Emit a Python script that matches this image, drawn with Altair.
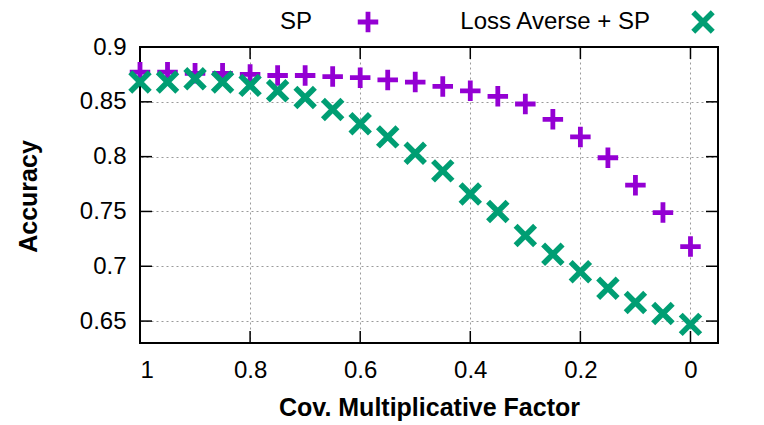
import altair as alt
import pandas as pd

factor = [1.0, 0.95, 0.9, 0.85, 0.8, 0.75, 0.7, 0.65, 0.6, 0.55, 0.5,
          0.45, 0.4, 0.35, 0.3, 0.25, 0.2, 0.15, 0.1, 0.05, 0.0]
sp = [0.877, 0.877, 0.876, 0.876, 0.875, 0.874, 0.874, 0.873, 0.872, 0.870, 0.868,
      0.864, 0.860, 0.855, 0.848, 0.834, 0.818, 0.799, 0.774, 0.749, 0.718]
loss_averse_sp = [0.868, 0.868, 0.871, 0.868, 0.865, 0.860, 0.854, 0.843, 0.830, 0.818, 0.803,
                  0.787, 0.766, 0.750, 0.728, 0.711, 0.695, 0.680, 0.667, 0.657, 0.647]
series_names = ["SP", "Loss Averse + SP"]
x_ticks = [0, 0.2, 0.4, 0.6, 0.8, 1]
y_ticks = [0.65, 0.7, 0.75, 0.8, 0.85, 0.9]

PURPLE = "#9400D3"
GREEN = "#009E73"
FONT = "Liberation Sans"
PLUS = "M-1,0H1M0,-1V1"
CROSS = "M-1,-1L1,1M-1,1L1,-1"
W, H = 578, 296

df_sp = pd.DataFrame({"x": factor, "y": sp})
df_la = pd.DataFrame({"x": factor, "y": loss_averse_sp})
df_xt = pd.DataFrame({"x": x_ticks})
df_yt = pd.DataFrame({"y": y_ticks})

xscale = alt.Scale(domain=[-0.05, 1], reverse=True, nice=False, zero=False)
yscale = alt.Scale(domain=[0.63, 0.9], nice=False, zero=False)

xaxis = alt.Axis(values=x_ticks, format="~g", title="Cov. Multiplicative Factor",
                 grid=True, gridDash=[2, 3], gridColor="#9a9a9a", gridWidth=1,
                 ticks=False, tickSize=0, domain=False,
                 labelFont=FONT, labelFontSize=24, labelColor="black",
                 labelBaseline="middle", labelPadding=27,
                 titleFont=FONT, titleFontSize=25, titleFontWeight="bold", titleColor="black",
                 titleBaseline="middle", titleY=64)
yaxis = alt.Axis(values=y_ticks, format="~g", title="Accuracy",
                 grid=True, gridDash=[2, 3], gridColor="#9a9a9a", gridWidth=1,
                 ticks=False, tickSize=0, domain=False,
                 labelFont=FONT, labelFontSize=24, labelColor="black",
                 labelPadding=14,
                 titleFont=FONT, titleFontSize=25, titleFontWeight="bold", titleColor="black",
                 titleBaseline="middle", titleX=-112, titleY=H / 2 + 1, titleAngle=-90)


def X(field="x"):
    return alt.X(f"{field}:Q", scale=xscale, axis=xaxis)


def Y(field="y"):
    return alt.Y(f"{field}:Q", scale=yscale, axis=yaxis)


pts_sp = alt.Chart(df_sp).mark_point(
    shape=PLUS, size=420, filled=False, color=PURPLE, strokeWidth=4.8, opacity=1
).encode(x=X(), y=Y())
pts_la = alt.Chart(df_la).mark_point(
    shape=CROSS, size=380, filled=False, color=GREEN, strokeWidth=5.6, opacity=1
).encode(x=X(), y=Y())

TL = 12
ytick_l = alt.Chart(df_yt).mark_rule(color="black", strokeWidth=1.5).encode(
    y=Y(), x=alt.value(0), x2=alt.value(TL))
ytick_r = alt.Chart(df_yt).mark_rule(color="black", strokeWidth=1.5).encode(
    y=Y(), x=alt.value(W - TL), x2=alt.value(W))
xtick_b = alt.Chart(df_xt).mark_rule(color="black", strokeWidth=1.5).encode(
    x=X(), y=alt.value(H - TL), y2=alt.value(H))
xtick_t = alt.Chart(df_xt).mark_rule(color="black", strokeWidth=1.5).encode(
    x=X(), y=alt.value(0), y2=alt.value(TL))

# plot border box
frame = alt.Chart(pd.DataFrame({"k": [0]})).mark_rect(
    fill=None, fillOpacity=0, stroke="black", strokeWidth=2
).encode(x=alt.value(0), x2=alt.value(W), y=alt.value(0), y2=alt.value(H))

# legend (gnuplot style: text then sample), placed above the plot
LY = -25
leg_df = pd.DataFrame({"name": series_names})
leg_text_sp = alt.Chart(leg_df.iloc[[0]]).mark_text(
    font=FONT, fontSize=24, align="right", baseline="middle", color="black"
).encode(text="name:N", x=alt.value(172), y=alt.value(LY))
leg_text_la = alt.Chart(leg_df.iloc[[1]]).mark_text(
    font=FONT, fontSize=24, align="right", baseline="middle", color="black"
).encode(text="name:N", x=alt.value(510), y=alt.value(LY))
leg_sym_sp = alt.Chart(leg_df.iloc[[0]]).mark_point(
    shape=PLUS, size=420, filled=False, color=PURPLE, strokeWidth=4.8, opacity=1
).encode(x=alt.value(228), y=alt.value(LY))
leg_sym_la = alt.Chart(leg_df.iloc[[1]]).mark_point(
    shape=CROSS, size=380, filled=False, color=GREEN, strokeWidth=5.6, opacity=1
).encode(x=alt.value(563), y=alt.value(LY))

chart = alt.layer(
    ytick_l, ytick_r, xtick_b, xtick_t, frame, pts_sp, pts_la,
    leg_text_sp, leg_sym_sp, leg_text_la, leg_sym_la,
).properties(
    width=W, height=H,
    background="white",
    autosize=alt.AutoSizeParams(type="none"),
    padding={"left": 132, "top": 39, "right": 38, "bottom": 79},
).configure_view(
    stroke=None
)

chart.save("out.html", embed_options={"renderer": "svg", "actions": False})
